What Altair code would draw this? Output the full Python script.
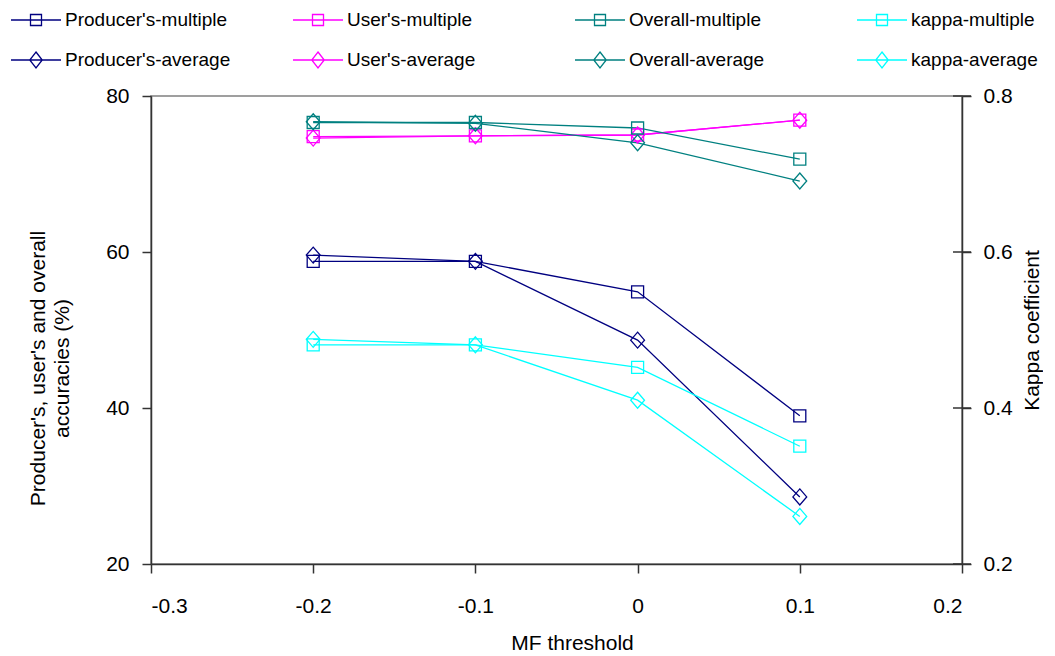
import altair as alt
import pandas as pd

# ---- data ----
mf_threshold = [-0.2, -0.1, 0.0, 0.1]

producers_multiple = [58.8, 58.8, 54.9, 39.0]
producers_average = [59.6, 58.8, 48.7, 28.6]
users_multiple = [74.8, 74.9, 75.0, 76.9]
users_average = [74.6, 74.9, 75.0, 76.9]
overall_multiple = [76.6, 76.6, 75.9, 71.9]
overall_average = [76.7, 76.5, 74.0, 69.1]
kappa_multiple = [0.481, 0.481, 0.452, 0.351]
kappa_average = [0.488, 0.481, 0.410, 0.261]

series_names = ["Producer's-multiple", "User's-multiple", "Overall-multiple", "kappa-multiple",
                "Producer's-average", "User's-average", "Overall-average", "kappa-average"]
series_colors = ["#000080", "#FF00FF", "#008080", "#00FFFF",
                 "#000080", "#FF00FF", "#008080", "#00FFFF"]
series_marker = ["multiple"] * 4 + ["average"] * 4

x_ticks = [-0.3, -0.2, -0.1, 0, 0.1, 0.2]
left_ticks = [20, 40, 60, 80]
right_ticks = [0.2, 0.4, 0.6, 0.8]

acc_series = {
    "Producer's-multiple": producers_multiple,
    "Producer's-average": producers_average,
    "User's-multiple": users_multiple,
    "User's-average": users_average,
    "Overall-multiple": overall_multiple,
    "Overall-average": overall_average,
}
kappa_series = {
    "kappa-multiple": kappa_multiple,
    "kappa-average": kappa_average,
}

def to_long(d):
    rows = []
    for name, vals in d.items():
        mk = "multiple" if name.endswith("multiple") else "average"
        for xv, yv in zip(mf_threshold, vals):
            rows.append({"series": name, "x": xv, "value": yv, "marker": mk})
    return pd.DataFrame(rows)

acc_df = to_long(acc_series)
kappa_df = to_long(kappa_series)
legend_df = pd.DataFrame({
    "series": series_names,
    "col": [i % 4 for i in range(8)],
    "row": [i // 4 for i in range(8)],
    "marker": series_marker,
})
right_tick_df = pd.DataFrame({"x": [x_ticks[-1]] * len(right_ticks), "tick": right_ticks})

FONT = "Liberation Sans"
SQUARE = "M-1,-1H1V1H-1Z"
DIAMOND = "M0,-1.33L1.15,0L0,1.33L-1.15,0Z"
LEG_SQUARE = "M-1,0H1M-0.22,-0.22H0.22V0.22H-0.22Z"
LEG_DIAMOND = "M-1,0H1M0,-0.32L0.25,0L0,0.32L-0.25,0Z"

color = alt.Color("series:N", scale=alt.Scale(domain=series_names, range=series_colors), legend=None)
xscale = alt.Scale(domain=[-0.3, 0.2], nice=False, zero=False)

x_axis = alt.Axis(values=x_ticks, labelExpr="'' + datum.value", title="MF threshold", grid=False,
                  labelFontSize=21, titleFontSize=21, labelPadding=22, titlePadding=16,
                  titleX=421,
                  tickSize=9, labelFont=FONT, titleFont=FONT, labelColor="#000", titleColor="#000",
                  titleFontWeight="normal")
left_axis = alt.Axis(values=left_ticks, format="d", grid=False, orient="left",
                     title=["Producer's, user's and overall", "accuracies (%)"],
                     labelFontSize=21, titleFontSize=21, labelPadding=13, titlePadding=33,
                     titleY=272,
                     tickSize=9, labelFont=FONT, titleFont=FONT, labelColor="#000", titleColor="#000",
                     titleFontWeight="normal", titleLineHeight=24)
right_axis = alt.Axis(values=right_ticks, format=".1f", grid=False, orient="right",
                      title="Kappa coefficient", titleAngle=270,
                      labelFontSize=21, titleFontSize=21, labelPadding=12, titlePadding=30,
                      tickSize=9, labelFont=FONT, titleFont=FONT, labelColor="#000", titleColor="#000",
                      titleFontWeight="normal")

acc_y = alt.Scale(domain=[20, 80], nice=False, zero=False)
kap_y = alt.Scale(domain=[0.2, 0.8], nice=False, zero=False)
shape_scale = alt.Scale(domain=["multiple", "average"], range=[SQUARE, DIAMOND])

acc_lines = alt.Chart(acc_df).mark_line(strokeWidth=1.3).encode(
    x=alt.X("x:Q", scale=xscale, axis=x_axis),
    y=alt.Y("value:Q", scale=acc_y, axis=left_axis),
    color=color, detail="series:N",
)
acc_points = alt.Chart(acc_df).mark_point(filled=False, size=144, strokeWidth=1.3, opacity=1).encode(
    x=alt.X("x:Q", scale=xscale, axis=None),
    y=alt.Y("value:Q", scale=acc_y, axis=None),
    color=color,
    shape=alt.Shape("marker:N", scale=shape_scale, legend=None),
)
kap_lines = alt.Chart(kappa_df).mark_line(strokeWidth=1.3).encode(
    x=alt.X("x:Q", scale=xscale, axis=None),
    y=alt.Y("value:Q", scale=kap_y, axis=right_axis),
    color=color, detail="series:N",
)
kap_points = alt.Chart(kappa_df).mark_point(filled=False, size=144, strokeWidth=1.3, opacity=1).encode(
    x=alt.X("x:Q", scale=xscale, axis=None),
    y=alt.Y("value:Q", scale=kap_y, axis=None),
    color=color,
    shape=alt.Shape("marker:N", scale=shape_scale, legend=None),
)
# right-axis ticks cross the axis line in the reference
kap_ticks = alt.Chart(right_tick_df).mark_tick(orient="horizontal", size=18, thickness=1.5,
                                               color="#333333", opacity=1).encode(
    x=alt.X("x:Q", scale=xscale, axis=None),
    y=alt.Y("tick:Q", scale=kap_y, axis=None),
)

leg_x = alt.X("col:Q", scale=alt.Scale(domain=[0, 3], range=[-115, 731]), axis=None)
leg_y = alt.Y("row:Q", scale=alt.Scale(domain=[0, 1], range=[-76, -36]), axis=None)

leg_symbols = alt.Chart(legend_df).mark_point(filled=False, size=2500, strokeWidth=1.3, opacity=1).encode(
    x=leg_x, y=leg_y, color=color,
    shape=alt.Shape("marker:N", scale=alt.Scale(domain=["multiple", "average"],
                                                 range=[LEG_SQUARE, LEG_DIAMOND]), legend=None),
)
leg_text = alt.Chart(legend_df).mark_text(align="left", baseline="middle", dx=29,
                                          fontSize=19, font=FONT, color="#000").encode(
    x=leg_x, y=leg_y, text="series:N",
)

chart = alt.layer(acc_lines, acc_points, kap_lines, kap_points, kap_ticks,
                  leg_symbols, leg_text).resolve_scale(
    x="independent", y="independent", color="independent", shape="independent"
).properties(
    width=811, height=468,
    padding={"left": 0, "top": 3, "right": 0, "bottom": 0},
).configure_view(
    stroke="#808080", strokeWidth=1.5
).configure_axis(
    domainColor="#333333", tickColor="#333333", domainWidth=1.5, tickWidth=1.5
)

chart.save("out.html", embed_options={"renderer": "svg", "actions": False})
